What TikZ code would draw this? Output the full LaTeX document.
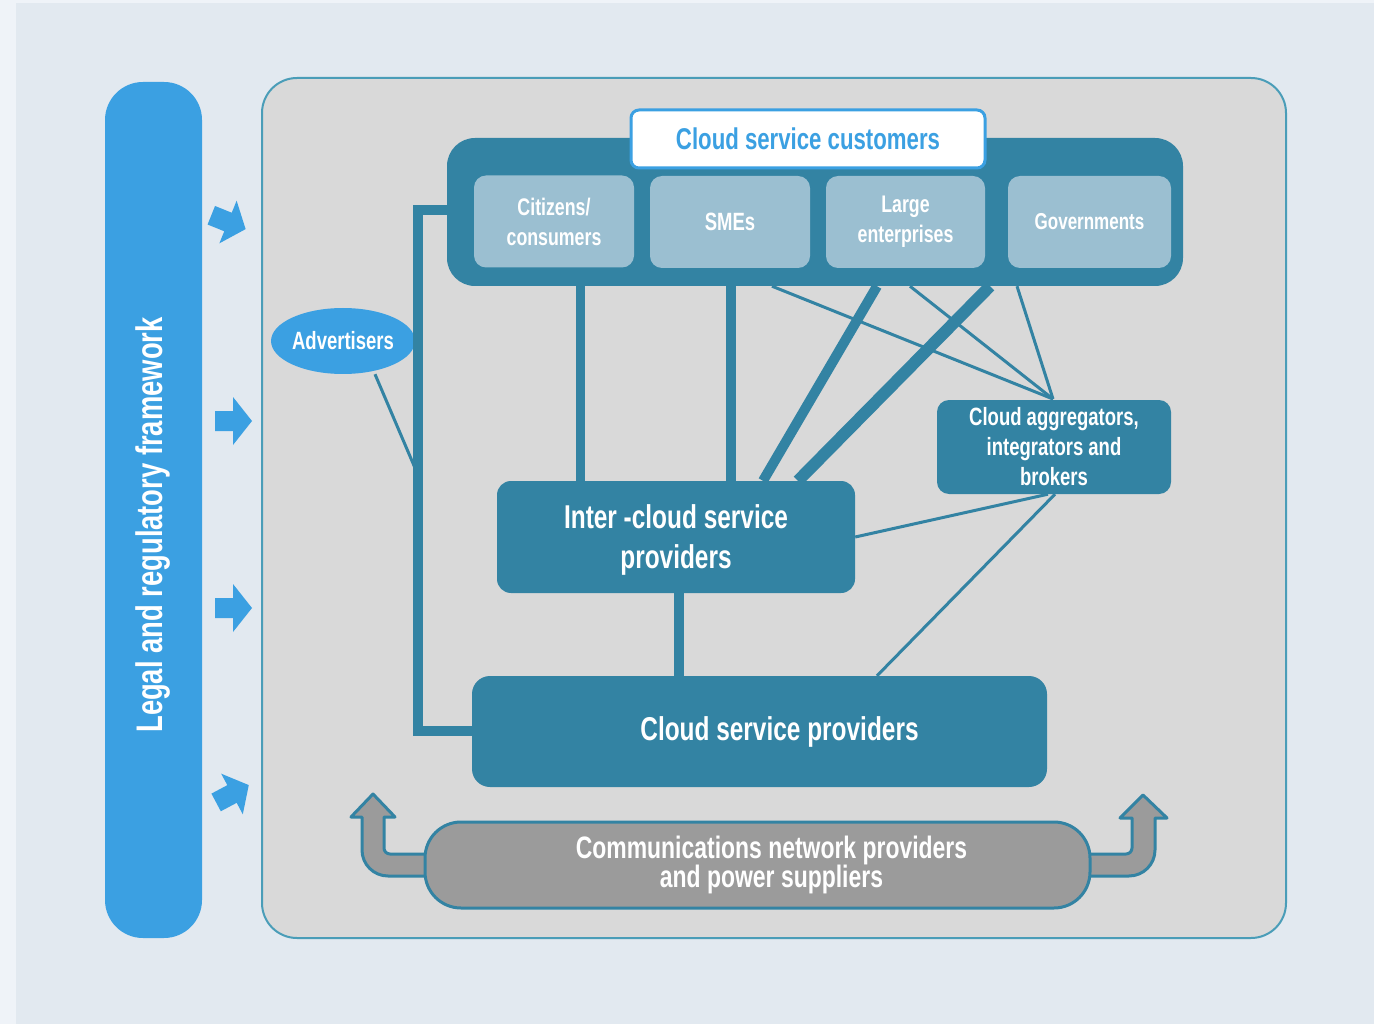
\documentclass[tikz,border=0pt]{standalone}
\usepackage{fontspec}
\setmainfont{Liberation Sans}
\newfontfamily\cf[FakeStretch=0.74]{Liberation Sans Bold}
\usetikzlibrary{shapes.geometric}
\definecolor{tealA}{HTML}{3383A3}
\definecolor{lightA}{HTML}{9BBFD1}
\definecolor{blueA}{HTML}{3BA0E2}
\definecolor{panelA}{HTML}{D9D9D9}
\definecolor{bgA}{HTML}{E2E9F0}
\definecolor{bgB}{HTML}{EFF3F8}
\definecolor{edgeA}{HTML}{4A9DB8}
\definecolor{grayA}{HTML}{9B9B9B}
\tikzset{
  tbox/.style={fill=tealA, rounded corners=14pt, inner sep=0pt, text=white, align=center, font=\cf},
  subbox/.style={fill=lightA, rounded corners=12pt, minimum width=160pt, minimum height=92pt, inner sep=0pt, text=white, align=center, font=\cf\fontsize{24}{30}\selectfont},
  thick link/.style={draw=tealA, line width=10pt},
  thin link/.style={draw=tealA, line width=3pt},
  larrow/.style={fill=blueA},
  bentarrow/.style={fill=grayA, draw=tealA, line width=3pt, line join=round}
}
\begin{document}
\begin{tikzpicture}[x=1pt,y=-1pt]
\useasboundingbox (0,0) rectangle (1374,1024);
\fill[bgB] (0,0) rectangle (1374,1024);
\fill[bgA] (16,3) rectangle (1374,1024);

% legal bar
\node[fill=blueA, rounded corners=38pt, minimum width=856pt, minimum height=97pt, rotate=90, inner sep=0pt, text=white, font=\cf\fontsize{37}{40}\selectfont] (legal) at (153.5,510) {Legal and regulatory framework\hspace*{30pt}};

% left arrows
\fill[larrow, shift={(228,222)}, rotate=-22] (-18,-10) -- (0,-10) -- (0,-23) -- (19,0) -- (0,23) -- (0,10) -- (-18,10) -- cycle;
\fill[larrow, shift={(233,421)}] (-18,-10) -- (0,-10) -- (0,-24) -- (19,0) -- (0,24) -- (0,10) -- (-18,10) -- cycle;
\fill[larrow, shift={(233,608)}] (-18,-10) -- (0,-10) -- (0,-24) -- (19,0) -- (0,24) -- (0,10) -- (-18,10) -- cycle;
\fill[larrow, shift={(232,794)}, rotate=28] (-18,-10) -- (0,-10) -- (0,-23) -- (19,0) -- (0,23) -- (0,10) -- (-18,10) -- cycle;

% main panel
\node[fill=panelA, draw=edgeA, line width=2pt, rounded corners=35pt, minimum width=1024pt, minimum height=860pt, inner sep=0pt] (panel) at (774,508) {};

% bent arrows (drawn before the comms box)
\draw[bentarrow] (440,876) [rounded corners=26pt] -- (362,876) [sharp corners] -- (362,817) -- (351,817) -- (373,794) -- (395,817) -- (384,817) [rounded corners=6pt] -- (384,854) [sharp corners] -- (440,854) -- cycle;
\draw[bentarrow] (1080,876) [rounded corners=26pt] -- (1155,876) [sharp corners] -- (1155,818) -- (1167,818) -- (1143,795) -- (1120,818) -- (1132,818) [rounded corners=6pt] -- (1132,854) [sharp corners] -- (1080,854) -- cycle;

% nodes
\node[tbox, rounded corners=28pt, minimum width=736pt, minimum height=148pt] (cust) at (815,212) {};
\node[fill=white, draw=blueA, line width=3pt, rounded corners=8pt, minimum width=354pt, minimum height=58pt, inner sep=0pt, text=blueA, font=\cf\fontsize{30}{34}\selectfont] (title) at (808,139) {Cloud service customers};
\node[subbox] (cit) at (554,221.5) {Citizens/\\consumers};
\node[subbox, font=\cf\fontsize{25}{30}\selectfont] (sme) at (730,222) {SMEs};
\node[subbox, minimum width=159pt] (large) at (905.5,222) {Large\\enterprises};
\node[subbox, minimum width=163pt, font=\cf\fontsize{23}{30}\selectfont] (gov) at (1089.5,222) {Governments};

\node[ellipse, fill=blueA, minimum width=138pt, minimum height=66pt, inner sep=0pt, text=white, font=\cf\fontsize{25}{30}\selectfont] (adv) at (343,341) {Advertisers};

\node[tbox, minimum width=358pt, minimum height=112pt, font=\cf\fontsize{33}{40}\selectfont] (inter) at (676,537) {\rule{0pt}{30pt}Inter -cloud service\\providers};
\node[tbox, rounded corners=12pt, minimum width=234pt, minimum height=94pt, font=\cf\fontsize{25}{30}\selectfont] (agg) at (1054,447) {Cloud aggregators,\\integrators and\\brokers};
\node[tbox, rounded corners=18pt, minimum width=575pt, minimum height=111pt, font=\cf\fontsize{33}{36}\selectfont] (csp) at (759.5,731.5) {\hspace*{40pt}Cloud service providers};
\node[fill=grayA, draw=tealA, line width=3pt, rounded corners=36pt, minimum width=665pt, minimum height=86pt, inner sep=0pt, text=white, align=center, font=\cf\fontsize{31}{27}\selectfont] (comms) at (757.5,865) {\hspace*{28pt}Communications network providers\\\hspace*{28pt}and power suppliers};

% connectors
\coordinate (advend) at (418,475);
\draw[tealA, line width=10pt, line join=miter] (cust.west |- 0,210) -- (418,210) -- (418,731) -- (csp.west |- 0,731);
\draw[thin link] (adv.south) ++(32,0) coordinate (advstart);
\draw[thin link] (advstart) -- (advend);

\draw[thick link, line width=9pt] (580,0 |- cust.south) -- (580,0 |- inter.north);
\draw[thick link] (731,0 |- cust.south) -- (731,0 |- inter.north);
\draw[thick link] (877,0 |- cust.south) -- (763,0 |- inter.north);
\draw[thick link, line width=12pt] (990,0 |- cust.south) -- (798,0 |- inter.north);
\draw[thick link] (679,0 |- inter.south) -- (679,0 |- csp.north);

\coordinate (aggtop) at (1053,399);
\draw[thin link] (772,0 |- cust.south) -- (aggtop);
\draw[thin link] (910,0 |- cust.south) -- (aggtop);
\draw[thin link] (1017,0 |- cust.south) -- (aggtop);
\draw[thin link] (inter.east |- 0,537) -- (1048,0 |- agg.south);
\draw[thin link] (1055,0 |- agg.south) -- (877,0 |- csp.north);
\end{tikzpicture}
\end{document}
